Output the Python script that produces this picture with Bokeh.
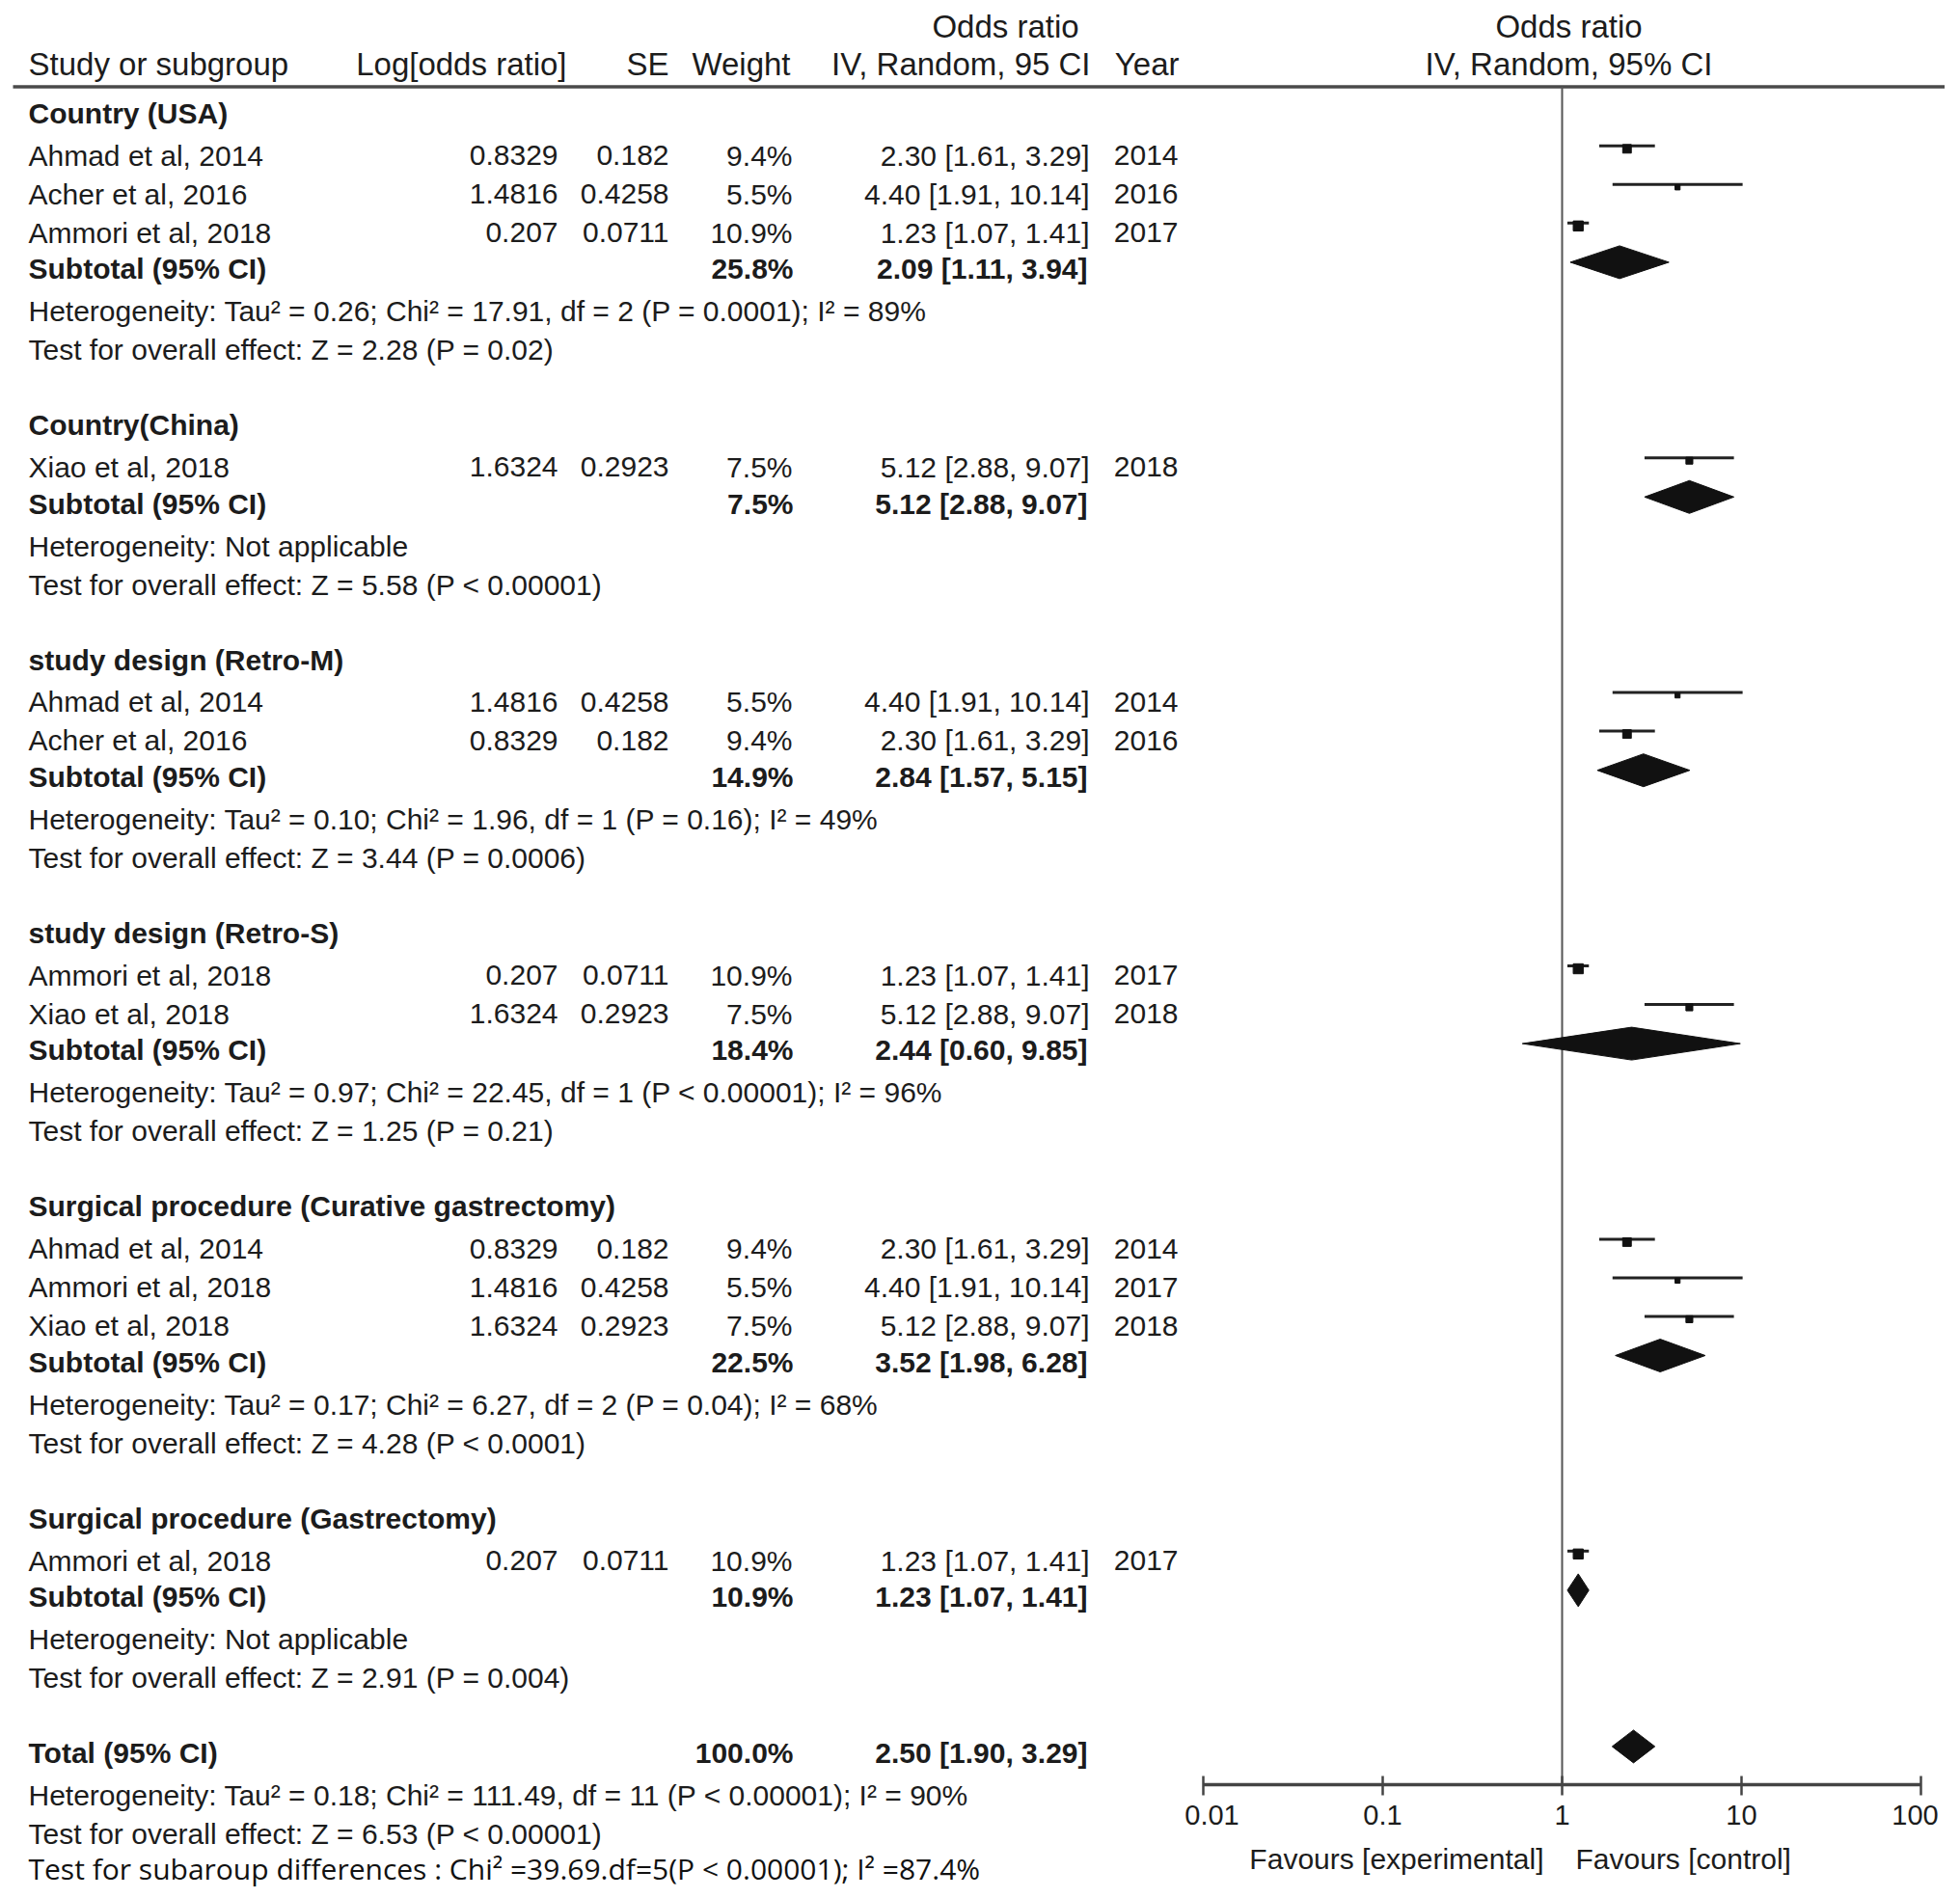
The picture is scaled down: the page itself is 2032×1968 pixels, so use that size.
from bokeh.plotting import figure
from bokeh.models import Range1d, LogScale
from bokeh.core.properties import value
from bokeh.embed import file_html
from bokeh.resources import INLINE

# ------------------------------------------------------------------ data
group_names = ["Country (USA)", "Country(China)", "study design (Retro-M)",
               "study design (Retro-S)", "Surgical procedure (Curative gastrectomy)",
               "Surgical procedure (Gastrectomy)"]

study_group = [0, 0, 0, 1, 2, 2, 3, 3, 4, 4, 4, 5]
study_names = ["Ahmad et al, 2014", "Acher et al, 2016", "Ammori et al, 2018",
               "Xiao et al, 2018",
               "Ahmad et al, 2014", "Acher et al, 2016",
               "Ammori et al, 2018", "Xiao et al, 2018",
               "Ahmad et al, 2014", "Ammori et al, 2018", "Xiao et al, 2018",
               "Ammori et al, 2018"]
log_or = [0.8329, 1.4816, 0.207, 1.6324, 1.4816, 0.8329, 0.207, 1.6324,
          0.8329, 1.4816, 1.6324, 0.207]
se = [0.182, 0.4258, 0.0711, 0.2923, 0.4258, 0.182, 0.0711, 0.2923,
      0.182, 0.4258, 0.2923, 0.0711]
weight = [9.4, 5.5, 10.9, 7.5, 5.5, 9.4, 10.9, 7.5, 9.4, 5.5, 7.5, 10.9]
or_est = [2.30, 4.40, 1.23, 5.12, 4.40, 2.30, 1.23, 5.12, 2.30, 4.40, 5.12, 1.23]
or_lo = [1.61, 1.91, 1.07, 2.88, 1.91, 1.61, 1.07, 2.88, 1.61, 1.91, 2.88, 1.07]
or_hi = [3.29, 10.14, 1.41, 9.07, 10.14, 3.29, 1.41, 9.07, 3.29, 10.14, 9.07, 1.41]
year = [2014, 2016, 2017, 2018, 2014, 2016, 2017, 2018, 2014, 2017, 2018, 2017]

sub_weight = [25.8, 7.5, 14.9, 18.4, 22.5, 10.9]
sub_or = [2.09, 5.12, 2.84, 2.44, 3.52, 1.23]
sub_lo = [1.11, 2.88, 1.57, 0.60, 1.98, 1.07]
sub_hi = [3.94, 9.07, 5.15, 9.85, 6.28, 1.41]
het_text = [
    "Heterogeneity: Tau\u00b2 = 0.26; Chi\u00b2 = 17.91, df = 2 (P = 0.0001); I\u00b2 = 89%",
    "Heterogeneity: Not applicable",
    "Heterogeneity: Tau\u00b2 = 0.10; Chi\u00b2 = 1.96, df = 1 (P = 0.16); I\u00b2 = 49%",
    "Heterogeneity: Tau\u00b2 = 0.97; Chi\u00b2 = 22.45, df = 1 (P < 0.00001); I\u00b2 = 96%",
    "Heterogeneity: Tau\u00b2 = 0.17; Chi\u00b2 = 6.27, df = 2 (P = 0.04); I\u00b2 = 68%",
    "Heterogeneity: Not applicable",
]
test_text = [
    "Test for overall effect: Z = 2.28 (P = 0.02)",
    "Test for overall effect: Z = 5.58 (P < 0.00001)",
    "Test for overall effect: Z = 3.44 (P = 0.0006)",
    "Test for overall effect: Z = 1.25 (P = 0.21)",
    "Test for overall effect: Z = 4.28 (P < 0.0001)",
    "Test for overall effect: Z = 2.91 (P = 0.004)",
]
total_weight = 100.0
total_or = 2.50
total_lo = 1.90
total_hi = 3.29
total_het = "Heterogeneity: Tau\u00b2 = 0.18; Chi\u00b2 = 111.49, df = 11 (P < 0.00001); I\u00b2 = 90%"
total_test = "Test for overall effect: Z = 6.53 (P < 0.00001)"
subgroup_test = "Test for subaroup differences : Chi\u00b2  =39.69.df=5(P < 0.00001); I\u00b2 =87.4%"

col_headers = ["Study or subgroup", "Log[odds ratio]", "SE", "Weight",
               "IV, Random, 95 CI", "Year"]
or_header_top = "Odds ratio"
plot_header = ["Odds ratio", "IV, Random, 95% CI"]
null_value = 1
axis_ticks = [0.01, 0.1, 1, 10, 100]
axis_tick_labels = ["0.01", "0.1", "1", "10", "100"]
favours_left = "Favours [experimental]"
favours_right = "Favours [control]"

# ------------------------------------------------------------------ layout / style
W, H = 2016, 1964
FS = 30
HFS = 33
FONT = "Liberation Sans"
TXT = "#1c1c1c"
INK = "#111111"
TEXT_SHIFT = -12.0   # renderer baseline correction

X_NAME = 29
X_LOG = 578
X_SE = 693
X_W = 821
X_OR = 1129
X_YEAR = 1221

ORIGIN_X = 1619.0   # page x of OR = 1
DECADE = 186.0      # px per decade

# row positions (y grows downward)
y = 118.0
header_y, study_y, sub_y, het_y, test_y = [], [], [], [], []
for g in range(len(group_names)):
    header_y.append(y)
    y += 43.8
    n = study_group.count(g)
    for k in range(n):
        study_y.append(y)
        if k < n - 1:
            y += 40.0
    y += 37.6
    sub_y.append(y)
    y += 44.0
    het_y.append(y)
    y += 40.0
    test_y.append(y)
    y += 78.0
total_y = y
total_het_y = total_y + 44.0
total_test_y = total_het_y + 40.0
subgroup_y = total_test_y + 36.0

AXIS_Y = 1850.0
HEAD_LINE_Y = 89.5


def bl(ys, fs=FS):
    return [v + 0.357 * fs + TEXT_SHIFT for v in ys]


p = figure(width=W, height=H, output_backend="svg", toolbar_location=None,
           x_range=Range1d(0, W), y_range=Range1d(H, 0),
           x_axis_location=None, y_axis_location=None, title=None,
           min_border=0, outline_line_color=None, background_fill_color="white")
p.grid.visible = False
p.extra_x_ranges = {"or": Range1d(10 ** ((0 - ORIGIN_X) / DECADE),
                                  10 ** ((W - ORIGIN_X) / DECADE))}
p.extra_x_scales = {"or": LogScale()}


def txt(xs, ys, texts, align="left", bold=False, size=FS, font=FONT,
        rname=None, x_offset=0, color=TXT):
    kw = {}
    if rname:
        kw["x_range_name"] = rname
    p.text(x=xs, y=ys, text=texts, text_align=align, text_baseline="alphabetic",
           text_font=value(font), text_font_size=value(f"{size}px"),
           text_font_style="bold" if bold else "normal", text_color=color,
           x_offset=x_offset, **kw)


# ---- header
hb1 = 27 + 0.357 * HFS + TEXT_SHIFT
hb2 = 66 + 0.357 * HFS + TEXT_SHIFT
txt([X_NAME], [hb2], [col_headers[0]], size=HFS)
txt([587, X_SE, 819, 1130, 1222], [hb2] * 5, col_headers[1:], align="right", size=HFS)
txt([1042], [hb1], [or_header_top], align="center", size=HFS)
txt([1626, 1626], [hb1, hb2], plot_header, align="center", size=HFS)
p.segment(x0=[13], x1=[2018], y0=[HEAD_LINE_Y], y1=[HEAD_LINE_Y],
          line_width=3.5, line_color="#4a4a4a")

# ---- group rows
txt([X_NAME] * len(group_names), bl(header_y), group_names, bold=True)
txt([X_NAME] * len(study_names), bl(study_y), study_names)
txt([X_LOG] * len(log_or), bl(study_y), [str(v) for v in log_or], align="right")
txt([X_SE] * len(se), bl(study_y), [str(v) for v in se], align="right")
txt([X_W] * len(weight), bl(study_y), [f"{v:.1f}%" for v in weight], align="right")
txt([X_OR] * len(or_est), bl(study_y),
    [f"{e:.2f} [{l:.2f}, {h:.2f}]" for e, l, h in zip(or_est, or_lo, or_hi)], align="right")
txt([X_YEAR] * len(year), bl(study_y), [str(v) for v in year], align="right")

txt([X_NAME] * len(sub_y), bl(sub_y), ["Subtotal (95% CI)"] * len(sub_y), bold=True)
txt([X_W + 1] * len(sub_y), bl(sub_y), [f"{v:.1f}%" for v in sub_weight], align="right", bold=True)
txt([X_OR - 2] * len(sub_y), bl(sub_y),
    [f"{e:.2f} [{l:.2f}, {h:.2f}]" for e, l, h in zip(sub_or, sub_lo, sub_hi)],
    align="right", bold=True)
txt([X_NAME] * len(het_y), bl(het_y), het_text)
txt([X_NAME] * len(test_y), bl(test_y), test_text)

# ---- total
txt([X_NAME], bl([total_y]), ["Total (95% CI)"], bold=True)
txt([X_W + 1], bl([total_y]), [f"{total_weight:.1f}%"], align="right", bold=True)
txt([X_OR - 2], bl([total_y]), [f"{total_or:.2f} [{total_lo:.2f}, {total_hi:.2f}]"],
    align="right", bold=True)
txt([X_NAME], bl([total_het_y]), [total_het])
txt([X_NAME], bl([total_test_y]), [total_test])
txt([X_NAME], bl([subgroup_y], 30), [subgroup_test], size=30, font="Open Sans", color="#111111")

# ---- forest plot
p.segment(x0=[null_value], x1=[null_value], y0=[HEAD_LINE_Y], y1=[AXIS_Y],
          x_range_name="or", line_width=2, line_color="#555555")

line_y = [v - 11 for v in study_y]
p.segment(x0=or_lo, x1=or_hi, y0=line_y, y1=line_y, x_range_name="or",
          line_width=3, line_color="#222222")
p.scatter(x=or_est, y=[v + 3 for v in line_y], size=[w * 0.95 for w in weight],
          marker="square", x_range_name="or", fill_color=INK, line_color=INK)

DH = 17
d_y = [v - 8 for v in sub_y] + [total_y - 8]
d_lo = sub_lo + [total_lo]
d_or = sub_or + [total_or]
d_hi = sub_hi + [total_hi]
p.patches(xs=[[l, e, h, e] for l, e, h in zip(d_lo, d_or, d_hi)],
          ys=[[yy, yy - DH, yy, yy + DH] for yy in d_y],
          x_range_name="or", fill_color=INK, line_color=INK, line_width=1)

# ---- axis
p.segment(x0=[axis_ticks[0]], x1=[axis_ticks[-1]], y0=[AXIS_Y], y1=[AXIS_Y],
          x_range_name="or", line_width=3.5, line_color="#444444")
p.segment(x0=axis_ticks, x1=axis_ticks, y0=[AXIS_Y - 9] * len(axis_ticks),
          y1=[AXIS_Y + 11] * len(axis_ticks), x_range_name="or",
          line_width=2.5, line_color="#444444")
tick_label_nudge = [9, 0, 0, 0, -6]
p.text(x=axis_ticks, y=[1893 + TEXT_SHIFT] * len(axis_ticks), text=axis_tick_labels,
       x_offset=tick_label_nudge, x_range_name="or", text_align="center",
       text_baseline="alphabetic", text_font=value(FONT), text_font_size=value("29px"),
       text_color=TXT)
txt([null_value], [1939 + TEXT_SHIFT], [favours_left], align="right", rname="or", x_offset=-19)
txt([null_value], [1939 + TEXT_SHIFT], [favours_right], align="left", rname="or", x_offset=14)

open("out.html", "w").write(file_html(p, INLINE))
